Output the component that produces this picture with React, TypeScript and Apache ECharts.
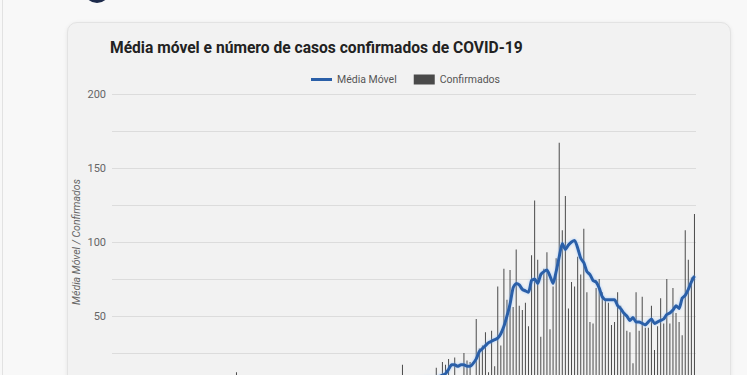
import React, { useEffect, useRef } from "react";
import * as echarts from "echarts";

const TITLE = "Média móvel e número de casos confirmados de COVID-19";
const SERIES_LINE = "Média Móvel";
const SERIES_BAR = "Confirmados";
const Y_AXIS_NAME = "Média Móvel / Confirmados";

// daily confirmed cases (190 days)
const confirmed: number[] = [
  0, 0, 0, 1, 0, 0, 0, 0, 1, 0, 0, 0, 2, 0, 0, 1, 0, 0, 0, 1,
  0, 2, 1, 0, 0, 3, 1, 0, 2, 0, 1, 0, 4, 2, 0, 1, 3, 0, 2, 1,
  12, 0, 2, 3, 1, 0, 2, 4, 1, 0, 3, 2, 0, 5, 1, 2, 0, 3, 4, 1,
  2, 0, 3, 5, 2, 1, 4, 0, 2, 6, 3, 1, 2, 4, 5, 0, 3, 2, 6, 4,
  3, 5, 2, 7, 4, 1, 6, 3, 5, 2, 8, 4, 6, 3, 17, 5, 7, 4, 9, 6,
  8, 5, 10, 7, 9,
  15, 6, 19, 17, 21, 8, 22, 9, 7, 25, 20, 19, 6, 48, 28, 30, 39, 12, 40, 16,
  70, 30, 82, 61, 81, 56, 95, 57, 54, 59, 43, 91, 128, 88, 36, 82, 93, 41, 70, 89,
  167, 108, 131, 55, 73, 70, 90, 78, 109, 66, 46, 45, 69, 75, 66, 61, 59, 44, 46, 66,
  57, 52, 40, 39, 18, 66, 40, 63, 42, 42, 57, 27, 43, 62, 45, 75, 45, 69, 52, 46,
  37, 108, 88, 76, 119,
];

// 7-day moving average
const movingAverage: number[] = [
  0, 0, 0, 0.1, 0.1, 0.1, 0.1, 0.1, 0.3, 0.1, 0.1, 0.1, 0.4, 0.4, 0.4, 0.4, 0.4, 0.4, 0.1, 0.3,
  0.3, 0.6, 0.7, 0.6, 0.6, 0.9, 1, 1, 1, 1, 1, 1, 1.3, 1.4, 1.3, 1.4, 1.6, 1.6, 1.3, 1.3,
  3.1, 2.9, 2.9, 3, 2.7, 2.7, 2.7, 1.9, 1.9, 1.6, 1.6, 1.9, 1.9, 2.1, 1.9, 2, 2, 2.3, 2.3, 2.3,
  2.4, 2.1, 2.3, 2.7, 2.7, 2.3, 2.4, 2.1, 2.4, 2.7, 2.7, 2.4, 2.1, 2.6, 3, 2.7, 2.7, 2.7, 3.4, 3.4,
  3.3, 3.9, 3.3, 4, 4.3, 3.7, 4, 4.1, 4.1, 4.3, 5, 4.9, 4.9, 4.4, 6.4, 6.4, 6.9, 6.6, 7.1, 7.4,
  7.4, 7.7, 8.1, 8, 7.6,
  8, 9, 10, 11, 14, 17, 17, 16, 17, 17, 16, 16, 18, 21, 26, 28, 30, 32, 33, 34,
  35, 38, 43, 50, 58, 69, 72, 71, 68, 67, 66, 74, 75, 72, 78, 80, 81, 77, 72, 80,
  90, 99, 95, 98, 100, 101, 96, 89, 86, 80, 78, 74, 73, 69, 63, 61, 61, 61, 61, 57,
  55, 52, 50, 47, 49, 46, 46, 45, 44, 46, 48, 45, 46, 47, 48, 51, 52, 54, 57, 55,
  62, 64, 68, 73, 77,
];

// tick labels shown in the visible part of the chart (0 lies below the frame)
const yTickLabels: number[] = [50, 100, 150, 200];

// day labels (off-screen in the reference)
const START_DAY = new Date(2020, 2, 1);
const days: string[] = confirmed.map((_, i) => {
  const d = new Date(START_DAY.getTime() + i * 86400000);
  return `${String(d.getDate()).padStart(2, "0")}/${String(d.getMonth() + 1).padStart(2, "0")}`;
});

export default function App() {
  const ref = useRef<HTMLDivElement>(null);
  useEffect(() => {
    if (!ref.current) return;
    const chart = echarts.init(ref.current, undefined, { renderer: "svg" });
    chart.setOption({
      animation: false,
      backgroundColor: "transparent",
      textStyle: { fontFamily: "Roboto" },
      title: {
        text: TITLE,
        left: 105,
        top: 35,
        textStyle: { fontSize: 15.6, fontWeight: "bold", color: "#222", fontFamily: "Roboto" },
      },
      legend: {
        top: 69,
        left: 306,
        itemWidth: 21,
        itemHeight: 10,
        itemGap: 17,
        textStyle: { fontSize: 10.5, color: "#555" },
        data: [
          { name: SERIES_LINE, icon: "path://M0,0 H21 V3 H0 Z", itemStyle: { color: "#2a5fa8" } },
          { name: SERIES_BAR, icon: "rect" },
        ],
      },
      grid: { left: 112, top: 94, width: 584, height: 296, containLabel: false },
      xAxis: {
        type: "category",
        data: days,
        axisTick: { show: false },
        axisLine: { show: false },
        axisLabel: { show: false },
      },
      yAxis: {
        type: "value",
        min: 0,
        max: 200,
        interval: 25,
        name: Y_AXIS_NAME,
        nameLocation: "middle",
        nameGap: 30,
        nameMoveOverlap: false,
        nameTextStyle: { fontSize: 10.5, color: "#666", fontStyle: "italic" },
        axisLine: { show: false },
        axisTick: { show: false },
        axisLabel: {
          color: "#666",
          fontSize: 11,
          margin: 6,
          formatter: (v: number) => (yTickLabels.includes(v) ? String(v) : ""),
        },
        splitLine: { lineStyle: { color: "#dcdcdc", width: 1 } },
      },
      series: [
        {
          name: SERIES_LINE,
          type: "line",
          data: movingAverage,
          symbol: "none",
          smooth: 0.2,
          z: 3,
          itemStyle: { color: "#2a5fa8" },
          lineStyle: {
            color: "#2a5fa8",
            width: 3,
            shadowColor: "rgba(120,180,255,0.6)",
            shadowBlur: 3,
          },
        },
        {
          name: SERIES_BAR,
          type: "bar",
          data: confirmed,
          barWidth: 1,
          itemStyle: { color: "#4a4a4a" },
          z: 2,
        },
      ],
    });
    return () => chart.dispose();
  }, []);

  return (
    <div
      style={{
        position: "fixed",
        left: 0,
        top: 0,
        width: 747,
        height: 375,
        overflow: "hidden",
        background: "#f8f8f8",
      }}
    >
      <div style={{ position: "absolute", left: 2, top: 0, width: 1, height: 375, background: "#e2e2e2" }} />
      <div
        style={{
          position: "absolute",
          left: 84,
          top: -23,
          width: 26,
          height: 26,
          borderRadius: "50%",
          background: "#1d2b4c",
        }}
      />
      <div
        style={{
          position: "absolute",
          left: 67,
          top: 22,
          width: 662,
          height: 480,
          borderRadius: 10,
          background: "#f2f2f2",
          border: "1px solid #e3e3e3",
          boxShadow: "0 1px 4px rgba(0,0,0,0.08)",
        }}
      />
      <div ref={ref} style={{ position: "absolute", left: 0, top: 0, width: 747, height: 460 }} />
    </div>
  );
}
